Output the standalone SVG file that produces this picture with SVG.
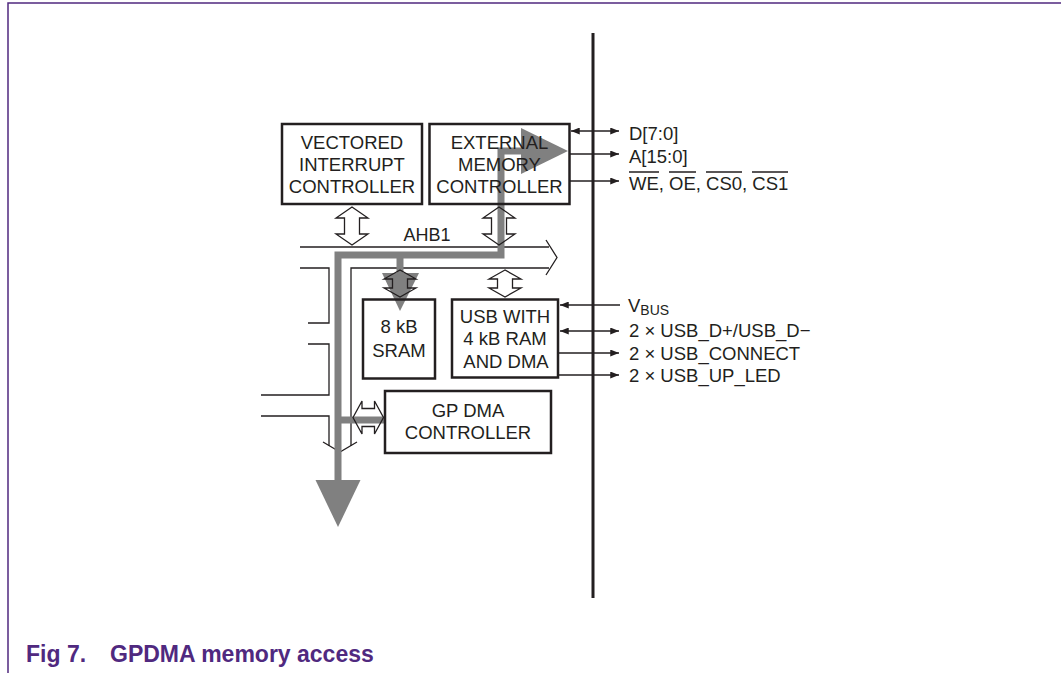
<svg xmlns="http://www.w3.org/2000/svg" width="1061" height="673" viewBox="0 0 1061 673">
<defs>
<style>
.box{fill:none;stroke:#231f20;stroke-width:2.5}
.ln{fill:none;stroke:#231f20;stroke-width:1.3}
.dbl{fill:none;stroke:#231f20;stroke-width:1.3;stroke-linejoin:miter}
.gray{fill:none;stroke:#808080;stroke-width:7}
.grayf{fill:#808080}
.t{font-family:"Liberation Sans",Arial,sans-serif;font-size:18.5px;fill:#231f20}
.tm{text-anchor:middle}
.cap{font-family:"Liberation Sans",Arial,sans-serif;font-size:23px;font-weight:bold;fill:#50297f}
.frame{stroke:#50297f;stroke-width:1.5;fill:none}
</style>
<marker id="ah" viewBox="0 0 10 8" refX="10" refY="4" markerWidth="9" markerHeight="7" markerUnits="userSpaceOnUse" orient="auto-start-reverse">
<path d="M0,0 L10,4 L0,8 Z" fill="#231f20"/>
</marker>
</defs>
<rect width="1061" height="673" fill="#fff"/>
<path class="frame" d="M1061,3 H8 V673"/>
<g id="connectors">
<path class="ln" d="M300,247 H549 M549,268 H351 V446"/>
<polyline class="ln" points="546,240 557,257.5 546,275"/>
<path class="ln" d="M300,268 H329 V323 H308"/>
<path class="ln" d="M308,344 H329 V395 H261"/>
<path class="ln" d="M261,416 H329 V446"/>
<polyline class="ln" points="323,442 340,452 357,442"/>
<path class="gray" d="M338,482 V255 H501 V151 H524"/>
<path class="gray" d="M400,255 V276"/>
<path class="gray" d="M338,420 H386"/>
<polygon class="grayf" points="521,128 568,151 521,174"/>
<polygon class="grayf" points="382,273 419,273 400,311"/>
<polygon class="grayf" points="315.5,480 360.5,480 338,527"/>
<polygon class="dbl" points="352,207 336,218 344.5,218 344.5,234 336,234 352,245 368,234 359.5,234 359.5,218 368,218"/>
<polygon class="dbl" points="499,207 483,218 491.5,218 491.5,234 483,234 499,245 515,234 506.5,234 506.5,218 515,218"/>
<polygon class="dbl" points="400,270 384,279 392.5,279 392.5,288 384,288 400,297 416,288 407.5,288 407.5,279 416,279"/>
<polygon class="dbl" points="505,270 489,279 497.5,279 497.5,288 489,288 505,297 521,288 512.5,288 512.5,279 521,279"/>
<polygon class="dbl" points="353,417.5 362,401 362,408.5 374.5,408.5 374.5,401 383.5,417.5 374.5,434 374.5,426.5 362,426.5 362,434"/>
<line x1="593" y1="33" x2="593" y2="598" stroke="#231f20" stroke-width="3"/>
<line class="ln" x1="571" y1="131" x2="619" y2="131" marker-start="url(#ah)" marker-end="url(#ah)"/>
<line class="ln" x1="570" y1="154" x2="619" y2="154" marker-end="url(#ah)"/>
<line class="ln" x1="570" y1="181" x2="619" y2="181" marker-end="url(#ah)"/>
<line class="ln" x1="620" y1="305" x2="560" y2="305" marker-end="url(#ah)"/>
<line class="ln" x1="560" y1="331" x2="619" y2="331" marker-start="url(#ah)" marker-end="url(#ah)"/>
<line class="ln" x1="558" y1="353" x2="619" y2="353" marker-end="url(#ah)"/>
<line class="ln" x1="558" y1="375" x2="619" y2="375" marker-end="url(#ah)"/>
</g>
<g id="vic">
<rect class="box" x="282" y="124" width="140" height="80"/>
<text class="t tm" x="352" y="148.5">VECTORED</text>
<text class="t tm" x="352" y="170.5">INTERRUPT</text>
<text class="t tm" x="352" y="192.5">CONTROLLER</text>
</g>
<g id="emc">
<rect class="box" x="429.5" y="124" width="140" height="80"/>
<text class="t tm" x="499.5" y="148.5">EXTERNAL</text>
<text class="t tm" x="499.5" y="170.5">MEMORY</text>
<text class="t tm" x="499.5" y="192.5">CONTROLLER</text>
</g>
<g id="ahb1">
<text class="t tm" x="427" y="240.5" style="font-size:18px">AHB1</text>
</g>
<g id="sram">
<rect class="box" x="363" y="299.5" width="72" height="79"/>
<text class="t tm" x="399" y="333">8 kB</text>
<text class="t tm" x="399" y="356.5">SRAM</text>
</g>
<g id="usb">
<rect class="box" x="452" y="299.5" width="106" height="78"/>
<text class="t tm" x="505" y="322.5">USB WITH</text>
<text class="t tm" x="505" y="345">4 kB RAM</text>
<text class="t tm" x="506" y="367.5">AND DMA</text>
</g>
<g id="gpdma">
<rect class="box" x="385" y="391" width="166" height="62"/>
<text class="t tm" x="468" y="416.5">GP DMA</text>
<text class="t tm" x="468" y="438.5">CONTROLLER</text>
</g>
<g id="signals">
<text class="t" x="629" y="139.5">D[7:0]</text>
<text class="t" x="629" y="163">A[15:0]</text>
<text class="t" x="629" y="190">WE, OE, CS0, CS1</text>
<path class="ln" d="M629,172 H659 M669,172 H696 M706,172 H742 M752,172 H788"/>
<text class="t" x="628" y="312">V<tspan style="font-size:14px" dy="3">BUS</tspan></text>
<text class="t" x="629" y="337">2 × USB_D+/USB_D−</text>
<text class="t" x="629" y="359.5">2 × USB_CONNECT</text>
<text class="t" x="629" y="381.5">2 × USB_UP_LED</text>
</g>
<g id="caption">
<text class="cap" x="26" y="662">Fig 7.</text>
<text class="cap" x="110" y="662">GPDMA memory access</text>
</g>
</svg>
